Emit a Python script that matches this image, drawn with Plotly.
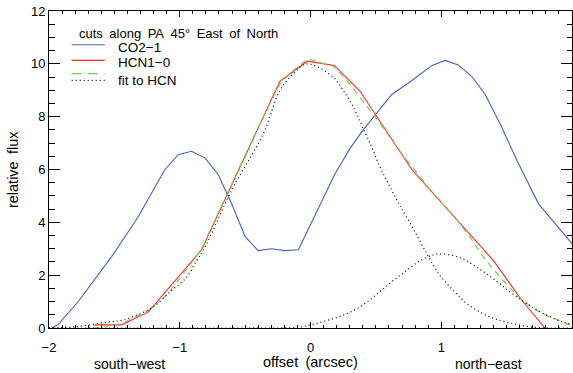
import plotly.graph_objects as go

# ---------------- data ----------------
co_x = [-2.0, -1.93, -1.77, -1.52, -1.32, -1.114, -1.012, -0.91, -0.808, -0.706,
        -0.603, -0.50, -0.40, -0.297, -0.195, -0.093, 0.188, 0.30, 0.40, 0.62,
        0.775, 0.93, 1.03, 1.13, 1.234, 1.336, 1.45, 1.579, 1.744, 1.86, 2.0]
co_y = [-0.05, 0.13, 1.04, 2.71, 4.19, 5.99, 6.56, 6.69, 6.44, 5.81,
        4.70, 3.46, 2.93, 3.00, 2.93, 2.96, 5.84, 6.78, 7.48, 8.83,
        9.37, 9.94, 10.13, 9.96, 9.52, 8.84, 7.73, 6.34, 4.70, 4.00, 3.19]

hcn_x = [-1.655, -1.446, -1.242, -0.833, -0.234, -0.025, 0.182, 0.379, 0.775,
         1.40, 1.617, 1.81]
hcn_y = [0.12, 0.12, 0.60, 2.96, 9.34, 10.10, 9.94, 8.96, 6.00,
         2.55, 1.04, -0.10]

fit_x = [-2.0, -1.8, -1.655, -1.446, -1.242, -1.1, -0.95, -0.833, -0.6, -0.4,
         -0.234, -0.12, -0.02, 0.18, 0.30, 0.43, 0.545, 0.66, 0.787, 0.94,
         1.093, 1.221, 1.323, 1.451, 1.579, 1.706, 1.834, 1.987, 2.0]
fit_y = [-0.12, -0.05, 0.00, 0.16, 0.66, 1.25, 2.20, 3.00, 5.45, 7.60,
         9.25, 9.80, 10.19, 9.90, 9.24, 8.42, 7.66, 6.84, 6.06, 5.08,
         4.26, 3.44, 2.68, 1.92, 1.23, 0.73, 0.41, 0.09, 0.08]

g1_x = [-2.0, -1.8, -1.56, -1.433, -1.305, -1.204, -1.076, -0.948, -0.871, -0.821,
        -0.591, -0.361, -0.234, -0.132, -0.03, 0.175, 0.251, 0.328, 0.404, 0.469,
        0.532, 0.596, 0.66, 0.698, 0.787, 0.89, 0.99, 1.093, 1.196, 1.349,
        1.502, 1.706, 2.0]
g1_y = [0.00, 0.05, 0.22, 0.30, 0.54, 0.79, 1.36, 1.92, 2.55, 2.93,
        5.33, 7.35, 8.99, 9.62, 10.00, 9.49, 8.99, 8.36, 7.54, 6.84,
        6.09, 5.46, 4.85, 4.51, 3.75, 2.81, 1.99, 1.42, 0.92, 0.47,
        0.22, 0.03, 0.00]

g2_x = [-2.0, -0.5, -0.093, 0.009, 0.124, 0.226, 0.328, 0.43, 0.532, 0.634,
        0.737, 0.838, 0.94, 0.99, 1.145, 1.273, 1.40, 1.528, 1.655, 1.783,
        1.936, 2.0]
g2_y = [0.00, 0.00, 0.03, 0.13, 0.28, 0.44, 0.66, 0.98, 1.38, 1.80,
        2.18, 2.55, 2.77, 2.81, 2.66, 2.30, 1.86, 1.36, 0.92, 0.54,
        0.22, 0.15]

x_ticks = [-2, -1, 0, 1, 2]
y_ticks = [0, 2, 4, 6, 8, 10, 12]

# ---------------- styles ----------------
BLUE = "#4462b8"
RED = "#ff2a2a"
GREEN = "#77cc55"
FONT = "Liberation Sans, Arial, sans-serif"
FS = 13

fig = go.Figure()
fig.add_trace(go.Scatter(x=co_x, y=co_y, mode="lines",
                         line=dict(color=BLUE, width=1.1), name="CO2-1"))
fig.add_trace(go.Scatter(x=hcn_x, y=hcn_y, mode="lines",
                         line=dict(color=RED, width=1.1), name="HCN1-0"))
fig.add_trace(go.Scatter(x=fit_x, y=fit_y, mode="lines",
                         line=dict(color=GREEN, width=1.2, dash="6px,5px"),
                         name="fit"))
fig.add_trace(go.Scatter(x=g1_x, y=g1_y, mode="lines", line_shape="spline",
                         line=dict(color="black", width=1.2, dash="1px,3px"),
                         name="fit to HCN"))
fig.add_trace(go.Scatter(x=g2_x, y=g2_y, mode="lines", line_shape="spline",
                         line=dict(color="black", width=1.2, dash="1px,3px"),
                         name="fit to HCN 2"))

# ---------------- manual legend (paper coords) ----------------
def px2x(px):
    return (px - 49.3) / 522.4

def py2y(py):
    return (327.5 - py) / 316.8

shapes = []
legend_lines = [
    (72, 105, 44.5, dict(color=BLUE, width=1.1)),
    (72, 105, 60.0, dict(color=RED, width=1.1)),
    (72, 105, 73.3, dict(color=GREEN, width=1.2, dash="10px,6px")),
    (72, 108, 80.0, dict(color="black", width=1.2, dash="1px,3px")),
]
for x0, x1, yy, ln in legend_lines:
    shapes.append(dict(type="line", xref="paper", yref="paper",
                       x0=px2x(x0), x1=px2x(x1), y0=py2y(yy), y1=py2y(yy),
                       line=ln))

def ann(text, px, py, size, anchor="left", angle=0):
    return dict(text=text, x=px2x(px), y=py2y(py), xref="paper", yref="paper",
                xanchor=anchor, yanchor="middle", showarrow=False,
                textangle=angle,
                font=dict(family=FONT, size=size, color="black"))

SP = "\u2002"
annotations = [
    ann(SP.join(["cuts", "along", "PA", "45°", "East", "of", "North"]), 77, 33, 13),
    ann("CO2\u22121", 116, 47, 13.5),
    ann("HCN1\u22120", 116, 62, 13.5),
    ann("fit to HCN", 116, 80, 13.5),
    ann("offset" + SP + "(arcsec)", 310.5, 361, 14.5, anchor="center"),
    ann("south\u2212west", 130, 363, 14, anchor="center"),
    ann("north\u2212east", 488, 363, 14, anchor="center"),
    ann("relative" + SP + "flux", 14, 169, 14.5, anchor="center", angle=-90),
]

fig.update_layout(
    width=573, height=373,
    margin=dict(l=49, r=1, t=11, b=45, pad=0),
    paper_bgcolor="white", plot_bgcolor="white",
    showlegend=False,
    font=dict(family=FONT, size=FS, color="black"),
    shapes=shapes, annotations=annotations,
)
fig.update_xaxes(
    range=[-2, 2], tickvals=x_ticks, ticks="inside", ticklen=6, tickwidth=1,
    tickcolor="black", showline=True, linecolor="black", linewidth=1,
    mirror="ticks", showgrid=False, zeroline=False, ticklabelstandoff=7,
    tickfont=dict(family=FONT, size=FS, color="black"),
    minor=dict(dtick=0.1, ticks="inside", ticklen=3, tickcolor="black",
               showgrid=False),
)
fig.update_yaxes(
    range=[0, 12], tickvals=y_ticks, ticks="inside", ticklen=11, tickwidth=1,
    tickcolor="black", showline=True, linecolor="black", linewidth=1,
    mirror="ticks", showgrid=False, zeroline=False,
    tickfont=dict(family=FONT, size=FS, color="black"),
    minor=dict(dtick=0.5, ticks="inside", ticklen=5.5, tickcolor="black",
               showgrid=False),
)

fig.write_html("out.html")
